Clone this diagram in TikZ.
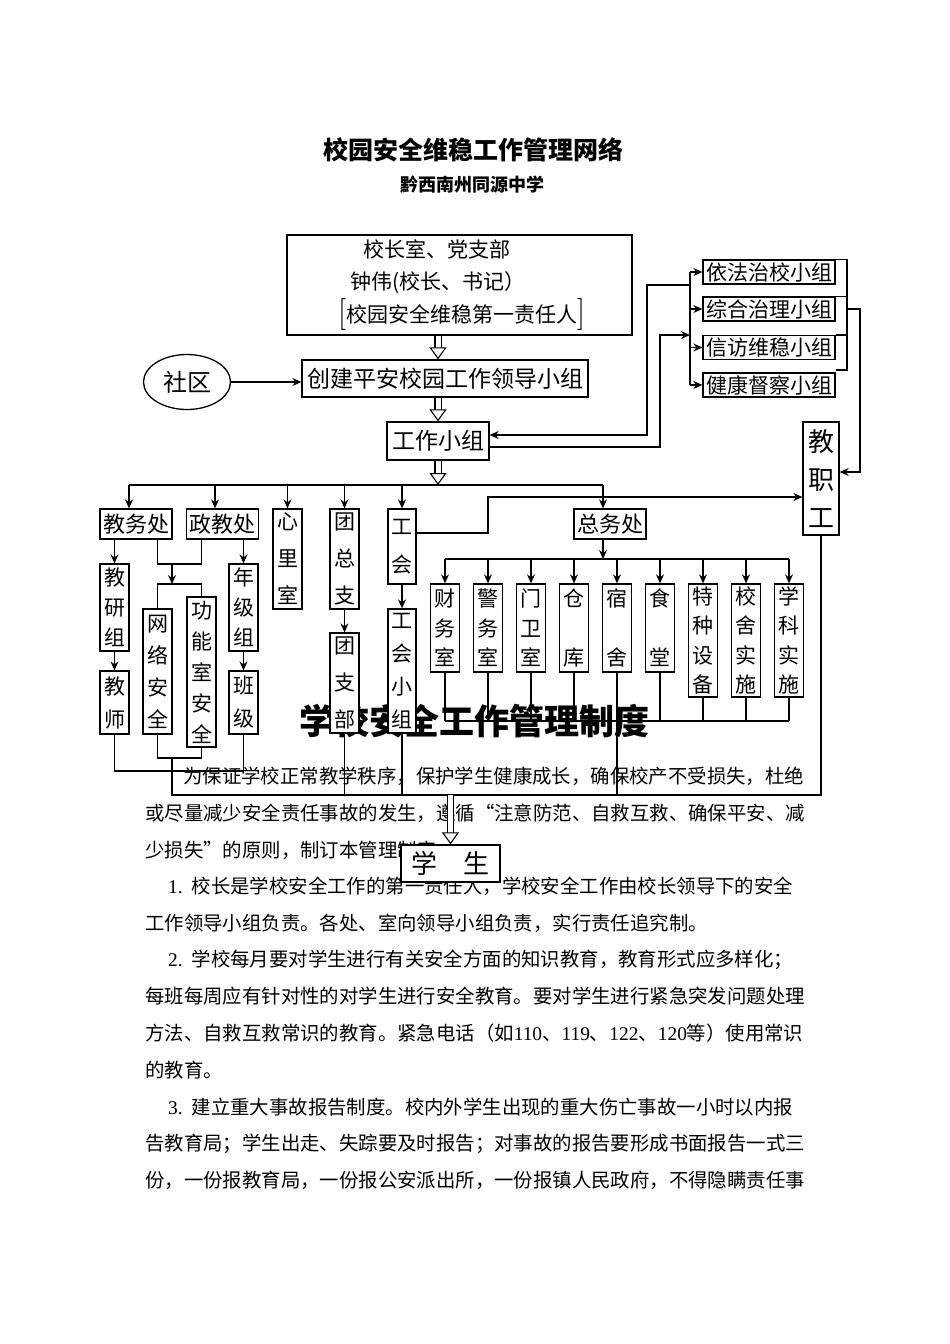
\documentclass[tikz,border=0pt]{standalone}
\usepackage{fontspec}
\usepackage{tikz}
\usetikzlibrary{arrows.meta,shapes.geometric}
\newfontfamily\zh{Noto Sans CJK SC}
\newfontfamily\tnr{Liberation Serif}
\newcommand{\boxfont}{\zh\fontsize{22}{26}\selectfont}
\newcommand{\bodyfont}{\zh\fontsize{19.4}{24}\selectfont}
\newcommand{\tallbr}[1]{{\normalfont\fontsize{32}{32}\selectfont#1}}
\tikzset{
  >={Stealth[length=9pt,width=8pt,inset=3pt]},
  box/.style={draw,fill=white,line width=1.3pt,inner sep=0pt,align=center,font=\boxfont},
  vbox/.style={box,minimum width=29pt,font=\zh\fontsize{21}{#1}\selectfont},
  vbox/.default=30pt,
  dept/.style={box,minimum width=72pt,minimum height=30pt},
  grp/.style={box,minimum width=132pt,minimum height=24pt,font=\zh\fontsize{21}{24}\selectfont},
  link/.style={line width=1.3pt},
  arrow/.style={->,line width=1.3pt},
  hollow/.style={double,double distance=5pt,line width=1.1pt,
                 -{Triangle[open,length=12pt,width=17pt,line width=1.1pt]}},
  bodyline/.style={anchor=west,inner sep=0pt,font=\bodyfont}
}

\begin{document}
\begin{tikzpicture}[x=1pt,y=-1pt,line cap=butt,line join=miter]
  \path[use as bounding box,fill=white] (0,0) rectangle (950,1344);

  % Titles
  \node[font=\zh\bfseries\fontsize{25}{28}\selectfont] (maintitle) at (473.5,150)
    {校园安全维稳工作管理网络};
  \node[font=\zh\bfseries\fontsize{18}{20}\selectfont] (school) at (472,185)
    {黔西南州同源中学};

  % Body text
  \node[bodyline] (p1) at (183,776) {为保证学校正常教学秩序，保护学生健康成长，确保校产不受损失，杜绝};
  \node[bodyline] (p2) at (145,813) {或尽量减少安全责任事故的发生，遵循“注意防范、自救互救、确保平安、减};
  \node[bodyline] (p3) at (145,850) {少损失”的原则，制订本管理制度。};
  \node[bodyline] (p4) at (168,886) {{\tnr 1.}\hspace{9pt}校长是学校安全工作的第一责任人，学校安全工作由校长领导下的安全};
  \node[bodyline] (p5) at (145,923) {工作领导小组负责。各处、室向领导小组负责，实行责任追究制。};
  \node[bodyline] (p6) at (168,960) {{\tnr 2.}\hspace{9pt}学校每月要对学生进行有关安全方面的知识教育，教育形式应多样化；};
  \node[bodyline] (p7) at (145,996) {每班每周应有针对性的对学生进行安全教育。要对学生进行紧急突发问题处理};
  \node[bodyline] (p8) at (145,1033) {方法、自救互救常识的教育。紧急电话（如{\tnr 110}、{\tnr 119}、{\tnr 122}、{\tnr 120}等）使用常识};
  \node[bodyline] (p9) at (145,1070) {的教育。};
  \node[bodyline] (p10) at (168,1107) {{\tnr 3.}\hspace{9pt}建立重大事故报告制度。校内外学生出现的重大伤亡事故一小时以内报};
  \node[bodyline] (p11) at (145,1144) {告教育局；学生出走、失踪要及时报告；对事故的报告要形成书面报告一式三};
  \node[bodyline] (p12) at (145,1180) {份，一份报教育局，一份报公安派出所，一份报镇人民政府，不得隐瞒责任事};
  \node[font=\zh\bfseries\fontsize{35}{38}\selectfont] (rules) at (474,721)
    {学校安全工作管理制度};

  % Leadership
  \node[box,minimum width=345pt,minimum height=100pt,text width=345pt,align=left,
        font=\zh\fontsize{21}{32.5}\selectfont] (lead) at (459.5,285)
    {\hspace*{76pt}校长室、党支部\\
     \hspace*{63pt}钟伟(校长、书记）\\
     \hspace*{51pt}\tallbr{[}校园安全维稳第一责任人\tallbr{]}};
  \node[box,minimum width=286pt,minimum height=37pt,
        font=\zh\fontsize{23}{26}\selectfont] (leader) at (445,378.5)
    {创建平安校园工作领导小组};
  \node[box,minimum width=102pt,minimum height=38pt,
        font=\zh\fontsize{23}{26}\selectfont] (work) at (438,441) {工作小组};
  \node[draw,ellipse,line width=1.3pt,inner sep=0pt,minimum width=87pt,
        minimum height=55pt,font=\zh\fontsize{24}{26}\selectfont] (shequ) at (187,382) {社区};

  % Groups on the right
  \node[grp] (fazhi) at (769,272) {依法治校小组};
  \node[grp] (zonghe) at (769,309) {综合治理小组};
  \node[grp] (xinfang) at (769,347.5) {信访维稳小组};
  \node[grp] (jiankang) at (769,385) {健康督察小组};
  \node[vbox,minimum width=36pt,minimum height=113pt,
        font=\zh\fontsize{26}{38}\selectfont] (staff) at (821,478.5) {教\\职\\工};

  % Departments
  \node[dept] (jiaowu) at (136,524) {教务处};
  \node[dept] (zhengjiao) at (222.5,524) {政教处};
  \node[vbox=37pt,minimum height=100pt] (xinli) at (287.5,559) {心\\里\\室};
  \node[vbox=37pt,minimum height=100pt] (tuanzong) at (344.5,559) {团\\总\\支};
  \node[vbox=38pt,minimum width=28pt,minimum height=75pt] (gonghui) at (402,546.5) {工\\会};
  \node[dept] (zongwu) at (610,524) {总务处};

  \node[vbox=30pt,minimum height=87pt] (jiaoyan) at (114.5,607.5) {教\\研\\组};
  \node[vbox=33pt,minimum height=63pt] (teacher) at (114.5,702.5) {教\\师};
  \node[vbox=32pt,minimum height=125pt] (network) at (157.5,671.5) {网\\络\\安\\全};
  \node[vbox=31pt,minimum height=150pt] (funcroom) at (201.5,672) {功\\能\\室\\安\\全};
  \node[vbox=30pt,minimum height=87pt] (grade) at (243.5,607.5) {年\\级\\组};
  \node[vbox=33pt,minimum height=63pt] (klass) at (243.5,702.5) {班\\级};
  \node[vbox=37pt,minimum height=100pt] (tuanzhi) at (344.5,683) {团\\支\\部};
  \node[vbox=33pt,minimum width=28pt,minimum height=124pt] (ghgroup) at (402,671) {工\\会\\小\\组};

  \foreach \name/\x/\txt/\h in {finance/445/{财\\务\\室}/88, police/488/{警\\务\\室}/88,
      gate/531/{门\\卫\\室}/88, store/574/{仓\\[29.5pt]库}/88, dorm/617/{宿\\[29.5pt]舍}/88,
      canteen/660/{食\\[29.5pt]堂}/88, special/703/{特\\种\\设\\备}/113,
      building/746/{校\\舍\\实\\施}/113, subject/789/{学\\科\\实\\施}/113}{
    \pgfmathsetmacro\cy{584+\h/2}
    \node[vbox=29.5pt,minimum height=\h pt] (\name) at (\x,\cy) {\txt};
  }

  \node[box,minimum width=99pt,minimum height=37pt,
        font=\zh\fontsize{26}{28}\selectfont] (student) at (450.5,863.5) {学\hspace{26pt}生};

  % Junctions
  \coordinate (b1) at (129,485);
  \coordinate (b2) at (215,485);
  \coordinate (b6) at (603,485);
  \coordinate (s) at (603,559);
  \coordinate (t) at (617,721);
  \coordinate (j1) at (172,564);
  \coordinate (j2) at (172,584);
  \coordinate (k1) at (172,758);
  \coordinate (k2) at (172,771);
  \coordinate (bot) at (450.5,795);
  \coordinate (g0) at (488,533);
  \coordinate (g1) at (488,497);
  \coordinate (r) at (690,272);
  \coordinate (w1) at (660,447);
  \coordinate (w2) at (660,335);
  \coordinate (w3) at (647,285);
  \coordinate (w4) at (647,435);
  \coordinate (e0) at (847,309);
  \coordinate (e1) at (860,309);
  \coordinate (e2) at (860,472);
  \coordinate (f) at (847,370);

  % Main spine
  \draw[hollow] (lead.south -| work) -- (leader.north -| work);
  \draw[hollow] (leader.south -| work) -- (work.north);
  \draw[hollow] (work.south) -- (work |- b1);
  \draw[arrow] (shequ) -- (shequ -| leader.west);
  \draw[link] (b1) -- (b6);
  \draw[arrow] (b1) -- (b1 |- jiaowu.north);
  \draw[arrow] (b2) -- (b2 |- zhengjiao.north);
  \foreach \n in {xinli,tuanzong,gonghui} \draw[arrow] (b1 -| \n) -- (\n.north);
  \draw[arrow] (b6) -- (b6 |- zongwu.north);

  % Left branches
  \draw[arrow] (jiaowu.south -| jiaoyan) -- (jiaoyan.north);
  \draw[arrow] (jiaoyan) -- (teacher);
  \draw[arrow] (zhengjiao.south -| grade) -- (grade.north);
  \draw[arrow] (grade) -- (klass);
  \draw[link] (jiaowu.south -| network) |- (j1) -| (zhengjiao.south -| funcroom);
  \draw[arrow] (j1) -- (j2);
  \draw[link] (network.north) |- (j2) -| (funcroom.north);
  \draw[arrow] (tuanzong) -- (tuanzhi);
  \draw[arrow] (gonghui) -- (ghgroup);

  % General affairs
  \draw[arrow] (b6 |- zongwu.south) -- (s);
  \draw[link] (finance |- s) -- (subject |- s);
  \foreach \n in {finance,police,gate,store,dorm,canteen,special,building,subject}{
    \draw[arrow] (\n |- s) -- (\n.north);
    \draw[link] (\n.south) -- (\n |- t);
  }
  \draw[link] (finance |- t) -- (subject |- t);
  \draw[link] (t) -- (dorm |- bot);

  % Bottom collector
  \draw[link] (teacher.south) |- (k2) -| (klass.south);
  \draw[link] (network.south) |- (k1) -| (funcroom.south);
  \draw[link] (k1) -- (k1 |- bot) -- (bot -| staff) -- (staff.south);
  \draw[link] (tuanzhi.south) -- (tuanzhi |- bot);
  \draw[link] (ghgroup.south) -- (ghgroup |- bot);
  \draw[hollow] (bot) -- (student.north);

  % Staff and groups
  \draw[arrow] (gonghui.east |- g0) -- (g0) -- (g1) -- (g1 -| staff.west);
  \draw[link] (fazhi.west -| r) -- (jiankang.west -| r);
  \foreach \n in {fazhi,zonghe,xinfang,jiankang} \draw[arrow] (\n.west -| r) -- (\n.west);
  \draw[arrow] (work.east |- w1) -- (w1) -- (w2) -- (w2 -| r);
  \draw[arrow] (w3 -| r) -- (w3) -- (w4) -- (w4 -| work.east);
  \draw[link] (fazhi.north east) -| (f) -- (f -| xinfang.east);
  \draw[link] (zonghe.north east) -- (zonghe.north east -| f);
  \draw[link] (xinfang.north east) -- (xinfang.north east -| f);
  \draw[arrow] (e0) -- (e1) -- (e2) -- (e2 -| staff.east);
\end{tikzpicture}
\end{document}
